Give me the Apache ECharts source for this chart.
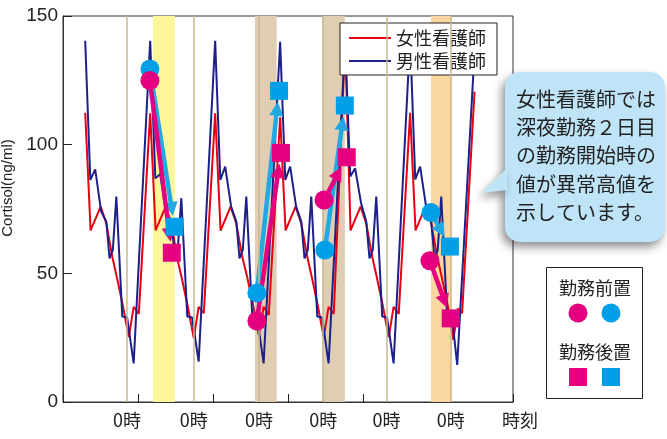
<!DOCTYPE html>
<html>
<head>
<meta charset="utf-8">
<script src="https://cdn.jsdelivr.net/npm/echarts@6/dist/echarts.min.js"></script>
<style>html,body{margin:0;padding:0;background:#fff;}#c{width:667px;height:439px;}</style>
</head>
<body>
<div id="c"></div>
<script>
// ---- data (x in hours, y in ng/ml) ----
const maleTimes = [
  8.2, 10.1, 11.9, 14.1, 16.0, 17.2, 18.4, 19.7, 21.9, 23.7, 26.1,
  32.2, 34.1, 35.9, 38.1, 40.0, 41.2, 42.4, 43.7, 45.9, 47.7, 50.1,
  56.2, 58.1, 59.9, 62.1, 64.0, 65.2, 66.4, 67.7, 69.9, 71.7, 74.1,
  80.2, 82.1, 83.9, 86.1, 88.0, 89.2, 90.4, 91.7, 93.9, 95.7, 98.1,
  104.2, 106.1, 107.9, 110.1, 112.0, 113.2, 114.4, 115.7, 117.9, 119.7, 122.1,
  128.2, 130.1, 131.9, 134.1, 136.0, 137.2, 138.4, 139.7, 141.9, 143.7, 145.6,
  152.2
];
const maleValues = [
  140.4, 86.3, 90.4, 74.0, 70.1, 55.8, 59.1, 79.8, 33.2, 32.8, 15.0,
  140.4, 86.9, 88.6, 73.3, 70.1, 57.8, 59.5, 79.2, 33.2, 32.8, 15.7,
  140.4, 86.3, 91.5, 75.9, 70.1, 55.8, 59.1, 79.8, 33.2, 32.8, 15.0,
  140.0, 86.3, 91.5, 75.9, 70.1, 55.8, 59.1, 79.8, 33.2, 32.8, 15.0,
  140.0, 87.6, 90.8, 77.2, 70.1, 55.8, 59.1, 79.8, 33.2, 32.8, 15.0,
  141.3, 86.5, 91.5, 75.9, 70.1, 55.8, 59.1, 79.8, 33.2, 32.8, 14.4,
  140.0
];
const femaleTimes = [
  8.2, 10.2, 13.9, 16.0, 18.2, 20.0, 22.1, 24.3, 26.1, 28.0,
  32.2, 34.2, 37.9, 40.0, 42.2, 44.0, 46.1, 48.3, 50.1, 52.0,
  56.2, 58.2, 61.9, 64.0, 66.2, 68.0, 70.1, 72.3, 74.1, 76.0,
  80.2, 82.2, 85.9, 88.0, 90.2, 92.0, 94.1, 96.3, 98.1, 100.0,
  104.2, 106.2, 109.9, 112.0, 114.2, 116.0, 118.1, 120.3, 122.1, 124.0,
  128.2, 130.2, 133.9, 136.0, 138.2, 140.0, 142.1, 144.2, 145.8, 147.4,
  152.0
];
const femaleValues = [
  112.4, 66.7, 75.9, 69.4, 56.5, 48.0, 37.5, 25.2, 37.0, 34.2,
  112.2, 66.7, 75.9, 69.4, 55.8, 47.5, 37.0, 24.8, 37.0, 34.5,
  112.2, 66.6, 75.9, 69.4, 56.5, 48.7, 38.4, 26.0, 37.0, 33.8,
  110.6, 66.7, 75.9, 69.4, 56.5, 48.0, 37.5, 25.2, 37.0, 34.2,
  140.0, 66.7, 75.9, 69.4, 56.5, 48.0, 37.5, 25.2, 37.0, 34.2,
  112.4, 66.7, 75.9, 69.4, 56.5, 48.0, 37.5, 24.1, 36.4, 34.5,
  120.6
];
// before / after duty
const femalePreTimes  = [32.1, 71.6, 96.4, 135.5];
const femalePreValues = [124.9, 31.5, 78.5, 54.9];
const femalePostTimes  = [40.2, 80.5, 104.8, 143.2];
const femalePostValues = [58.0, 96.8, 95.1, 32.5];
const malePreTimes  = [32.1, 71.6, 96.7, 135.9];
const malePreValues = [129.4, 42.4, 59.1, 73.6];
const malePostTimes  = [41.2, 79.8, 104.1, 142.9];
const malePostValues = [68.1, 120.9, 115.2, 60.4];
// duty periods and midnights
const bandStarts = [33.2, 70.9, 95.8, 135.9];
const bandEnds   = [41.3, 78.9, 104.1, 143.5];
const midnightHours = [23.6, 48.3, 72.4, 96.1, 119.5, 143.2];
const xLabelHours = [23.6, 48.3, 72.4, 96.1, 119.5, 143.2, 166.2];
const xLabelTexts = ['0時', '0時', '0時', '0時', '0時', '0時', '時刻'];
const yTicks = [0, 50, 100, 150];
const seriesNames = ['女性看護師', '男性看護師'];
const calloutLines = ['女性看護師では', '深夜勤務２日目', 'の勤務開始時の', '値が異常高値を', '示しています。'];
const keyTitles = ['勤務前置', '勤務後置'];

// ---- styles ----
const bandColors = ['#fdf69b', '#dfceb3', '#dfceb3', '#fad7a0'];
const RED = '#e60012', NAVY = '#1d2088', PINK = '#e4007f', CYAN = '#00a0e9', CYAN_ARROW = '#22a8e3';
const JP = '"Noto Sans CJK JP", sans-serif';
const BALLOON = '#bfe4f7';

const zip = (xs, ys) => xs.map((x, i) => [x, ys[i]]);
const pairs = (x1, y1, x2, y2) => x1.map((x, i) => [x, y1[i], x2[i], y2[i]]);

function arrowRenderer(color) {
  return function (params, api) {
    const p1 = api.coord([api.value(0), api.value(1)]);
    const p2 = api.coord([api.value(2), api.value(3)]);
    const dx = p2[0] - p1[0], dy = p2[1] - p1[1];
    const len = Math.hypot(dx, dy);
    const ux = dx / len, uy = dy / len, nx = -uy, ny = ux;
    const gap = 11, headLen = 14, headW = 7;
    const tip = [p2[0] - ux * gap, p2[1] - uy * gap];
    const base = [tip[0] - ux * headLen, tip[1] - uy * headLen];
    return {
      type: 'group',
      children: [
        { type: 'line', shape: { x1: p1[0], y1: p1[1], x2: base[0] + ux * 2, y2: base[1] + uy * 2 },
          style: { stroke: color, lineWidth: 4.5 } },
        { type: 'polygon', shape: { points: [tip, [base[0] + nx * headW, base[1] + ny * headW], [base[0] - nx * headW, base[1] - ny * headW]] },
          style: { fill: color } }
      ]
    };
  };
}

const chart = echarts.init(document.getElementById('c'), null, { renderer: 'canvas' });
chart.setOption({
  animation: false,
  backgroundColor: '#fff',
  grid: { left: 63, top: 16, width: 450, height: 386, outerBoundsMode: 'none', containLabel: false,
    show: true, borderColor: '#333', borderWidth: 1, backgroundColor: 'transparent' },
  xAxis: {
    type: 'value', min: 0, max: 166.2, interval: 27.7,
    axisLine: { show: true, lineStyle: { color: '#333', width: 1 } },
    axisTick: { show: true, inside: true, length: 8, lineStyle: { color: '#222' } },
    splitLine: { show: false },
    axisLabel: {
      customValues: xLabelHours,
      margin: 9, fontSize: 18, color: '#222', fontFamily: JP,
      formatter: function (v) {
        let best = 0;
        xLabelHours.forEach((h, i) => { if (Math.abs(h - v) < Math.abs(xLabelHours[best] - v)) best = i; });
        return best === xLabelHours.length - 1 ? '{t|' + xLabelTexts[best] + '}' : xLabelTexts[best];
      },
      rich: { t: { padding: [0, 0, 0, 14], fontSize: 18, color: '#222', fontFamily: JP } }
    }
  },
  yAxis: {
    type: 'value', min: yTicks[0], max: yTicks[yTicks.length - 1], interval: yTicks[1] - yTicks[0],
    name: 'Cortisol(ng/ml)', nameLocation: 'middle', nameGap: 45, nameRotate: 90,
    nameTextStyle: { fontSize: 15, color: '#222', fontFamily: '"Liberation Sans", Arial', padding: [0, 0, 0, 42] },
    axisLine: { show: true, lineStyle: { color: '#333', width: 1 } },
    axisTick: { show: true, inside: true, length: 9, lineStyle: { color: '#222' } },
    splitLine: { show: false },
    axisLabel: { margin: 5, fontSize: 19, color: '#222', fontFamily: '"Liberation Sans", Arial' }
  },
  legend: {
    orient: 'vertical', left: 340, top: 23,
    padding: [6, 11, 5, 9], itemWidth: 42, itemHeight: 2, itemGap: 5,
    icon: 'path://M0 0 H42 V2 H0 Z',
    backgroundColor: '#fff', borderColor: '#222', borderWidth: 1,
    textStyle: { fontSize: 18, color: '#222', fontFamily: JP },
    data: seriesNames
  },
  series: [
    { type: 'line', name: 'bands', data: [], z: 1, silent: true,
      markArea: { silent: true, data: bandStarts.map((s, i) => [{ xAxis: s, itemStyle: { color: bandColors[i] } }, { xAxis: bandEnds[i] }]) } },
    { type: 'line', name: 'midnights', data: [], z: 1.5, silent: true,
      markLine: { silent: true, symbol: 'none', label: { show: false },
        lineStyle: { color: '#c9b790', width: 1.5, type: 'solid' },
        data: midnightHours.map(h => ({ xAxis: h })) } },
    { type: 'line', name: seriesNames[0], data: zip(femaleTimes, femaleValues), z: 2,
      symbol: 'none', lineStyle: { color: RED, width: 2 }, itemStyle: { color: RED } },
    { type: 'line', name: seriesNames[1], data: zip(maleTimes, maleValues), z: 3,
      symbol: 'none', lineStyle: { color: NAVY, width: 2 }, itemStyle: { color: NAVY } },
    { type: 'custom', name: 'maleArrow', z: 4, clip: false, renderItem: arrowRenderer(CYAN_ARROW),
      encode: { x: [0, 2], y: [1, 3] }, data: pairs(malePreTimes, malePreValues, malePostTimes, malePostValues) },
    { type: 'custom', name: 'femaleArrow', z: 5, clip: false, renderItem: arrowRenderer(PINK),
      encode: { x: [0, 2], y: [1, 3] }, data: pairs(femalePreTimes, femalePreValues, femalePostTimes, femalePostValues) },
    { type: 'scatter', name: 'malePre', z: 6, symbol: 'circle', symbolSize: 19, itemStyle: { color: CYAN, opacity: 1 },
      data: zip(malePreTimes, malePreValues) },
    { type: 'scatter', name: 'femalePre', z: 7, symbol: 'circle', symbolSize: 19, itemStyle: { color: PINK, opacity: 1 },
      data: zip(femalePreTimes, femalePreValues) },
    { type: 'scatter', name: 'malePost', z: 8, symbol: 'rect', symbolSize: 18, itemStyle: { color: CYAN, opacity: 1 },
      data: zip(malePostTimes, malePostValues) },
    { type: 'scatter', name: 'femalePost', z: 9, symbol: 'rect', symbolSize: 18, itemStyle: { color: PINK, opacity: 1 },
      data: zip(femalePostTimes, femalePostValues) }
  ],
  graphic: [
    { type: 'rect', z: 100, shape: { x: 505, y: 72, width: 160, height: 170, r: 15 },
      style: { fill: BALLOON, shadowBlur: 10, shadowColor: 'rgba(0,0,0,0.45)', shadowOffsetX: -3, shadowOffsetY: 5 } },
    { type: 'polygon', z: 100, shape: { points: [[507, 168], [482, 193], [507, 190]] },
      style: { fill: BALLOON, shadowBlur: 8, shadowColor: 'rgba(0,0,0,0.4)', shadowOffsetX: -3, shadowOffsetY: 5 } },
    { type: 'text', z: 101, left: 516, top: 85,
      style: { text: calloutLines.join('\n'), fontSize: 20, lineHeight: 28.3, fill: '#222', fontFamily: JP } },
    { type: 'rect', z: 100, shape: { x: 546.5, y: 267.5, width: 96, height: 131 },
      style: { fill: '#fff', stroke: '#222', lineWidth: 1 } },
    { type: 'text', z: 101, x: 595, y: 288,
      style: { text: keyTitles[0], fontSize: 18, fontFamily: JP, fill: '#222', align: 'center', verticalAlign: 'middle' } },
    { type: 'circle', z: 101, shape: { cx: 578, cy: 313, r: 9.5 }, style: { fill: PINK } },
    { type: 'circle', z: 101, shape: { cx: 611, cy: 313, r: 9.5 }, style: { fill: CYAN } },
    { type: 'text', z: 101, x: 595, y: 352,
      style: { text: keyTitles[1], fontSize: 18, fontFamily: JP, fill: '#222', align: 'center', verticalAlign: 'middle' } },
    { type: 'rect', z: 101, shape: { x: 569, y: 368, width: 18, height: 18 }, style: { fill: PINK } },
    { type: 'rect', z: 101, shape: { x: 602, y: 368, width: 18, height: 18 }, style: { fill: CYAN } }
  ]
});
</script>
</body>
</html>
